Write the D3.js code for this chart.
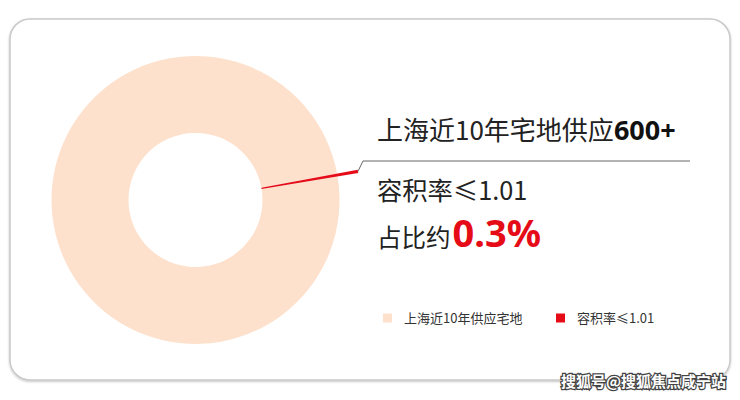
<!DOCTYPE html>
<html><head><meta charset="utf-8">
<script src="https://cdn.jsdelivr.net/npm/d3@7/dist/d3.min.js"></script>
<style>html,body{margin:0;padding:0;background:#fff;}svg{display:block;}</style>
</head><body>
<svg id="c" width="740" height="400"></svg>
<script>
const categories = ["容积率≤1.01", "上海近10年供应宅地"];
const values = [2, 598];
const colors = ["#e50c18", "#fde1cc"];
const titleMain = "上海近10年宅地供应";
const titleBold = "600+";
const subLine = "容积率≤1.01";
const shareLabel = "占比约";
const shareValue = "0.3%";
const watermark = "搜狐号@搜狐焦点咸宁站";

const svg = d3.select("#c");
const font = "'Noto Sans CJK SC','Noto Sans',sans-serif";

// card
const defs = svg.append("defs");
const f = defs.append("filter").attr("id","sh").attr("x","-5%").attr("y","-5%").attr("width","110%").attr("height","115%");
f.append("feDropShadow").attr("dx",0).attr("dy",1).attr("stdDeviation",1.2).attr("flood-color","#000").attr("flood-opacity",0.25);
svg.append("rect").attr("x",10).attr("y",19).attr("width",720).attr("height",361).attr("rx",20)
  .attr("fill","#fff").attr("stroke","#c9c9c9").attr("stroke-width",1.5).attr("filter","url(#sh)");

const cx = 195.5, cy = 200;
const g = svg.append("g").attr("transform", `translate(${cx},${cy})`);
const start = (79.4) * Math.PI / 180;
const pie = d3.pie().sort(null).value(d => d).startAngle(start).endAngle(start + 2 * Math.PI);
const arcs = pie(values);
const arcBig = d3.arc().innerRadius(67).outerRadius(144);
const arcRed = d3.arc().innerRadius(67).outerRadius(165);
g.selectAll("path").data(arcs).join("path")
  .attr("d", (d, i) => i === 0 ? arcRed(d) : arcBig(d))
  .attr("fill", (d, i) => colors[i]);
g.select("path").raise();

// leader line
const mid = (arcs[0].startAngle + arcs[0].endAngle) / 2;
const p0 = [Math.sin(mid) * 165 + cx, -Math.cos(mid) * 165 + cy];
svg.append("polyline")
  .attr("points", `${p0[0]},${p0[1]} ${p0[0] + 5},${161} 690,161`)
  .attr("fill", "none").attr("stroke", "#666").attr("stroke-width", 1);

// texts
const t1 = svg.append("text").attr("x", 377).attr("y", 140).attr("font-family", font).attr("font-size", 26).attr("fill", "#222");
t1.append("tspan").text(titleMain);
t1.append("tspan").attr("font-weight", "bold").attr("font-size", 27).attr("font-family","'Noto Sans',sans-serif").attr("fill","#111").text(titleBold);
svg.append("text").attr("x", 377).attr("y", 200).attr("font-family", font).attr("font-size", 25.3).attr("fill", "#222").text(subLine);
const t3 = svg.append("text").attr("x", 377).attr("y", 247).attr("font-family", font).attr("font-size", 24.5).attr("fill", "#222");
t3.append("tspan").text(shareLabel);
t3.append("tspan").attr("font-weight", "bold").attr("font-size", 38).attr("dx", 2).attr("font-family","'Noto Sans',sans-serif").attr("fill", colors[0]).text(shareValue);

// legend
const legendItems = [
  { name: categories[1], color: colors[1], x: 383 },
  { name: categories[0], color: colors[0], x: 556 }
];
const lg = svg.selectAll("g.lg").data(legendItems).join("g").attr("class", "lg")
  .attr("transform", d => `translate(${d.x},318)`);
lg.append("rect").attr("x", 0).attr("y", -4.5).attr("width", 9).attr("height", 9).attr("fill", d => d.color);
lg.append("text").attr("x", 21).attr("y", 0).attr("dy", "0.36em").attr("font-family", font).attr("font-size", 13).attr("fill", "#333").text(d => d.name);

// watermark
svg.append("text").attr("x", 726).attr("y", 387).attr("text-anchor", "end")
  .attr("font-family", font).attr("font-size", 15).attr("font-weight", "bold")
  .attr("fill", "#fff").attr("stroke", "#444").attr("stroke-width", 2.5).attr("paint-order", "stroke")
  .text(watermark);
</script>
</body></html>
